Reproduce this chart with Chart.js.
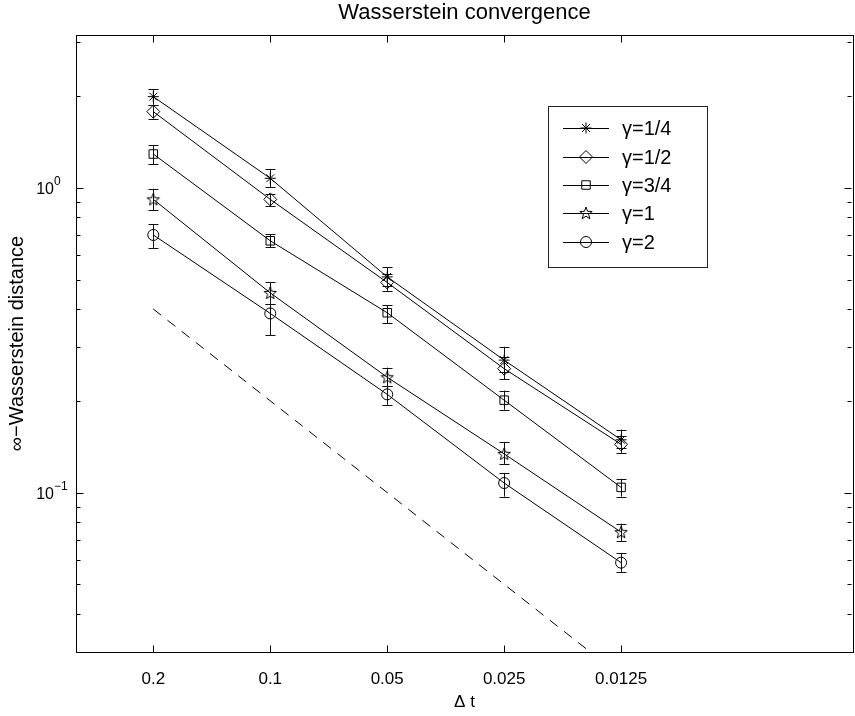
<!DOCTYPE html>
<html>
<head>
<meta charset="utf-8">
<script src="https://cdn.jsdelivr.net/npm/chart.js@4.4.1/dist/chart.umd.min.js"></script>
<style>
  html, body { margin: 0; padding: 0; background: #fff; overflow: hidden; }
  canvas { display: block; }
</style>
</head>
<body>
<canvas id="place__graph" width="861" height="716"></canvas>
<script>
// x axis: time step, drawn on a reversed log scale
const dtValues = [0.2, 0.1, 0.05, 0.025, 0.0125];
const dtLabels = ['0.2', '0.1', '0.05', '0.025', '0.0125'];
const yTickValues = [0.1, 1];
const yTickBase = ['10', '10'];
const yTickExp = ['\u22121', '0'];

const seriesNames = ['\u03B3=1/4', '\u03B3=1/2', '\u03B3=3/4', '\u03B3=1', '\u03B3=2'];

// values, with error bar ends
const gammaQuarter     = [1.99, 1.074, 0.510, 0.272, 0.149];
const gammaQuarterLow  = [1.873, 1.003, 0.476, 0.248, 0.140];
const gammaQuarterHigh = [2.109, 1.149, 0.550, 0.301, 0.161];

const gammaHalf     = [1.777, 0.916, 0.489, 0.255, 0.144];
const gammaHalfLow  = [1.685, 0.873, 0.459, 0.235, 0.135];
const gammaHalfHigh = [1.873, 0.954, 0.521, 0.278, 0.153];

const gammaThreeQ     = [1.290, 0.670, 0.389, 0.201, 0.104];
const gammaThreeQLow  = [1.196, 0.637, 0.360, 0.187, 0.097];
const gammaThreeQHigh = [1.378, 0.705, 0.412, 0.216, 0.111];

const gammaOne     = [0.916, 0.452, 0.239, 0.134, 0.0742];
const gammaOneLow  = [0.845, 0.416, 0.223, 0.124, 0.0694];
const gammaOneHigh = [0.992, 0.489, 0.257, 0.146, 0.0791];

const gammaTwo     = [0.700, 0.387, 0.210, 0.1075, 0.0589];
const gammaTwoLow  = [0.633, 0.328, 0.194, 0.097, 0.0549];
const gammaTwoHigh = [0.760, 0.416, 0.223, 0.116, 0.0633];

// first order reference line
const refDt = [0.2, 0.0125];
const refValues = [0.4, 0.025];

function makeStar() {
  const c = document.createElement('canvas');
  c.width = 16; c.height = 16;
  const g = c.getContext('2d');
  g.strokeStyle = '#000';
  g.lineWidth = 1;
  g.beginPath();
  for (let k = 0; k < 10; k++) {
    const r = k % 2 === 0 ? 6.5 : 2.7;
    const a = -Math.PI / 2 + k * Math.PI / 5;
    const px = 8 + r * Math.cos(a), py = 8.5 + r * Math.sin(a);
    if (k === 0) g.moveTo(px, py); else g.lineTo(px, py);
  }
  g.closePath();
  g.stroke();
  return c;
}
const starImg = makeStar();

function pts(ys) {
  return dtValues.map((x, i) => ({x: x, y: ys[i]}));
}

function series(i, values, low, high, style, radius) {
  return {
    label: seriesNames[i],
    data: pts(values),
    errLow: low,
    errHigh: high,
    borderColor: '#000',
    borderWidth: 1,
    pointStyle: style,
    pointRadius: radius,
    pointBorderColor: '#000',
    pointBackgroundColor: 'rgba(0,0,0,0)',
    pointBorderWidth: 1,
    tension: 0,
    fill: false
  };
}

const datasets = [
  series(0, gammaQuarter, gammaQuarterLow, gammaQuarterHigh, 'star', 5.5),
  series(1, gammaHalf, gammaHalfLow, gammaHalfHigh, 'rectRot', 6.5),
  series(2, gammaThreeQ, gammaThreeQLow, gammaThreeQHigh, 'rect', 6),
  series(3, gammaOne, gammaOneLow, gammaOneHigh, starImg, 7),
  series(4, gammaTwo, gammaTwoLow, gammaTwoHigh, 'circle', 5.5),
  {
    label: 'ref',
    data: refDt.map((x, i) => ({x: x, y: refValues[i]})),
    borderColor: '#000',
    borderWidth: 1,
    borderDash: [10, 8],
    pointRadius: 0,
    fill: false
  }
];

const FONT = 'Liberation Sans, Arial, Helvetica, sans-serif';

const matlabFrame = {
  id: 'matlabFrame',
  beforeDatasetsDraw(chart) {
    const ctx = chart.ctx, xs = chart.scales.x, ys = chart.scales.y;
    ctx.save();
    ctx.strokeStyle = '#111';
    ctx.lineWidth = 1;
    chart.data.datasets.forEach(ds => {
      if (!ds.errLow) return;
      dtValues.forEach((dt, j) => {
        const x = Math.round(xs.getPixelForValue(dt)) + 0.5;
        const y1 = ys.getPixelForValue(ds.errLow[j]);
        const y2 = ys.getPixelForValue(ds.errHigh[j]);
        ctx.beginPath();
        ctx.moveTo(x, y1); ctx.lineTo(x, y2);
        ctx.moveTo(x - 5, Math.round(y1) + 0.5); ctx.lineTo(x + 5, Math.round(y1) + 0.5);
        ctx.moveTo(x - 5, Math.round(y2) + 0.5); ctx.lineTo(x + 5, Math.round(y2) + 0.5);
        ctx.stroke();
      });
    });
    ctx.restore();
  },
  afterDatasetsDraw(chart) {
    const ctx = chart.ctx, xs = chart.scales.x, ys = chart.scales.y;
    const a = chart.chartArea;
    const L = Math.round(a.left) + 0.5, R = Math.round(a.right) + 0.5;
    const T = Math.round(a.top) + 0.5, B = Math.round(a.bottom) + 0.5;
    ctx.save();
    ctx.strokeStyle = '#000';
    ctx.lineWidth = 1;
    ctx.strokeRect(L, T, R - L, B - T);

    // inward ticks
    ctx.beginPath();
    dtValues.forEach(dt => {
      const x = Math.round(xs.getPixelForValue(dt)) + 0.5;
      ctx.moveTo(x, B); ctx.lineTo(x, B - 7);
      ctx.moveTo(x, T); ctx.lineTo(x, T + 7);
    });
    for (let d = -2; d <= 0; d++) {
      for (let m = 1; m <= 9; m++) {
        const v = m * Math.pow(10, d);
        if (v <= ys.min || v >= ys.max) continue;
        const y = Math.round(ys.getPixelForValue(v)) + 0.5;
        const len = m === 1 ? 7 : 4;
        ctx.moveTo(L, y); ctx.lineTo(L + len, y);
        ctx.moveTo(R - 2, y); ctx.lineTo(R - 2 - len, y);
      }
    }
    ctx.stroke();

    // y tick labels with raised exponent
    ctx.fillStyle = '#000';
    ctx.textBaseline = 'alphabetic';
    yTickValues.forEach((v, i) => {
      const y = ys.getPixelForValue(v);
      ctx.font = '16px ' + FONT;
      ctx.textAlign = 'right';
      ctx.fillText(yTickBase[i], a.left - 22, y + 6);
      ctx.font = '12px ' + FONT;
      ctx.textAlign = 'left';
      ctx.fillText(yTickExp[i], a.left - 22, y - 3);
    });

    // title
    ctx.font = '22px ' + FONT;
    ctx.textAlign = 'center';
    ctx.textBaseline = 'middle';
    ctx.fillText('Wasserstein convergence', (a.left + a.right) / 2, 13);

    // legend box
    const bx = a.left + 472, by = a.top + 71, bw = 159, bh = 161;
    ctx.fillStyle = '#fff';
    ctx.fillRect(bx + 0.5, by + 0.5, bw, bh);
    ctx.strokeStyle = '#222';
    ctx.strokeRect(Math.round(bx) + 0.5, Math.round(by) + 0.5, bw, bh);
    const rows = [22, 51, 79, 107, 136];
    ctx.font = '20px ' + FONT;
    ctx.textAlign = 'left';
    chart.data.datasets.slice(0, 5).forEach((ds, i) => {
      const y = by + rows[i];
      ctx.strokeStyle = '#000';
      ctx.lineWidth = 1;
      ctx.beginPath();
      ctx.moveTo(bx + 15, Math.round(y) + 0.5);
      ctx.lineTo(bx + 61, Math.round(y) + 0.5);
      ctx.stroke();
      ctx.fillStyle = 'rgba(0,0,0,0)';
      Chart.helpers.drawPoint(ctx, {
        pointStyle: ds.pointStyle,
        radius: ds.pointRadius,
        borderWidth: 1,
        rotation: 0
      }, bx + 38, y);
      ctx.fillStyle = '#000';
      ctx.fillText(ds.label, bx + 74, y + 1);
    });
    ctx.restore();
  }
};

const ctx = document.getElementById('place__graph').getContext('2d');
const chart = new Chart(ctx, {
  type: 'line',
  data: { datasets: datasets },
  options: {
    responsive: false,
    animation: false,
    layout: { padding: { top: 35, right: 2, left: 0, bottom: 0 } },
    plugins: {
      legend: { display: false },
      title: { display: false },
      tooltip: { enabled: false }
    },
    scales: {
      x: {
        type: 'logarithmic',
        reverse: true,
        min: Math.pow(10, -2.5),
        max: Math.pow(10, -0.5),
        afterBuildTicks: s => { s.ticks = dtValues.map(v => ({value: v})); },
        afterFit: s => { s.height = 64; },
        grid: { display: false, drawTicks: false },
        border: { display: false },
        ticks: {
          autoSkip: false,
          maxRotation: 0,
          padding: 17,
          color: '#000',
          font: { family: FONT, size: 17 },
          callback: (v, i) => dtLabels[i]
        },
        title: {
          display: true,
          text: '\u0394 t',
          color: '#000',
          font: { family: FONT, size: 17 },
          padding: { top: 0, bottom: 3 }
        }
      },
      y: {
        type: 'logarithmic',
        min: 0.03,
        max: 3.17,
        afterBuildTicks: s => { s.ticks = yTickValues.map(v => ({value: v})); },
        afterFit: s => { s.width = 76; },
        grid: { display: false, drawTicks: false },
        border: { display: false },
        ticks: { display: false },
        title: {
          display: true,
          text: '\u221E\u2212Wasserstein distance',
          color: '#000',
          font: { family: FONT, size: 20 },
          padding: { top: 5, bottom: 0 }
        }
      }
    }
  },
  plugins: [matlabFrame]
});
</script>
</body>
</html>
